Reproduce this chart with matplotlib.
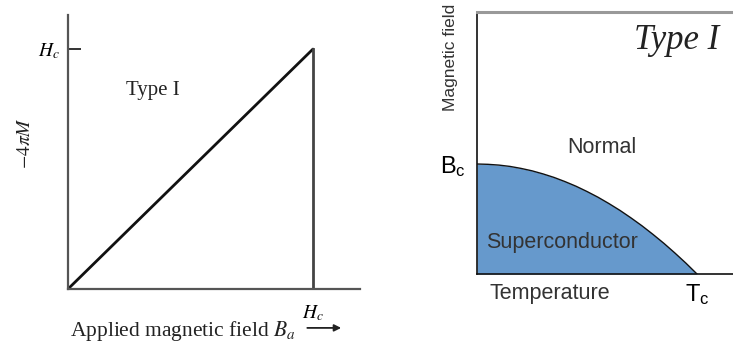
import numpy as np
import matplotlib
matplotlib.use('Agg')
import matplotlib.pyplot as plt

plt.rcParams['mathtext.fontset'] = 'custom'
plt.rcParams['mathtext.rm'] = 'Liberation Sans'
plt.rcParams['mathtext.it'] = 'Liberation Sans:italic'

# left panel: magnetization curve of a type I superconductor (units of Hc)
applied_field = [0.0, 1.0, 1.0]
magnetization = [0.0, 1.0, 0.0]
Hc = 1.0

# right panel: critical field curve (units of Tc, Bc)
temperature = [0.0, 0.05, 0.1, 0.15, 0.2, 0.25, 0.3, 0.35, 0.4, 0.45, 0.5,
               0.55, 0.6, 0.65, 0.7, 0.75, 0.8, 0.85, 0.9, 0.95, 1.0]
critical_field = [1.0, 0.997, 0.99, 0.978, 0.96, 0.938, 0.91, 0.878, 0.84, 0.798, 0.75,
                  0.698, 0.64, 0.578, 0.51, 0.438, 0.36, 0.278, 0.19, 0.098, 0.0]
Tc = 1.0
Bc = 1.0

W, H = 733, 349
fig = plt.figure(figsize=(W / 100, H / 100), dpi=100)

serif = 'Liberation Serif'
sans = 'Liberation Sans'

# left panel
ax1 = fig.add_axes([68 / W, (H - 289) / H, (360 - 68) / W, (289 - 15) / H])
ax1.plot(applied_field[:2], magnetization[:2], color='#111111', lw=2.0,
         solid_capstyle='round')
ax1.plot(applied_field[1:], magnetization[1:], color='#444444', lw=2.0)
ax1.set_xlim(0, 1.192)
ax1.set_ylim(0, 1.142)
for s in ['top', 'right']:
    ax1.spines[s].set_visible(False)
for s in ['left', 'bottom']:
    ax1.spines[s].set_color('#555555')
    ax1.spines[s].set_linewidth(1.6)
ax1.set_yticks([Hc])
ax1.set_yticklabels([r'$H_c$'], fontsize=14, math_fontfamily='stix')
ax1.tick_params(axis='y', direction='in', length=9, width=1.4, color='#333333', pad=6)
ax1.set_xticks([Hc])
ax1.set_xticklabels([r'$H_c$'], fontsize=14, math_fontfamily='stix')
ax1.tick_params(axis='x', length=0, pad=10)
ax1.text(0.291, 0.723, 'Type I', transform=ax1.transAxes, fontsize=15,
         family=serif, ha='center', va='center', color='#222222')
ax1.text(0.007, -0.153, r'Applied magnetic field $B_a$', transform=ax1.transAxes,
         fontsize=15.5, family=serif, ha='left', va='center', color='#222222',
         math_fontfamily='stix')
ax1.annotate('', xy=(0.945, -0.142), xytext=(0.81, -0.142), xycoords='axes fraction',
             arrowprops=dict(arrowstyle='-|>', color='#222222', lw=1.3,
                             mutation_scale=10))
fig.text(25 / W, 1 - 143 / H, r'$-4\pi M$', rotation=90, fontsize=14,
         ha='center', va='center', color='#222222', math_fontfamily='stix')

# right panel
ax2 = fig.add_axes([477 / W, (H - 274) / H, (733 - 477) / W, (274 - 12) / H])
ax2.fill_between(temperature, critical_field, 0, color='#6699cc', lw=0)
ax2.plot(temperature, critical_field, color='#111111', lw=1.0)
ax2.set_xlim(0, 256 / 220)
ax2.set_ylim(0, 262 / 110)
ax2.spines['right'].set_visible(False)
ax2.spines['top'].set_color('#999999')
ax2.spines['top'].set_linewidth(2.2)
for s in ['left', 'bottom']:
    ax2.spines[s].set_color('#111111')
    ax2.spines[s].set_linewidth(1.2)
ax2.set_yticks([Bc])
ax2.set_yticklabels([r'$\mathrm{B_c}$'], fontsize=17)
ax2.tick_params(axis='y', length=0, pad=8)
ax2.set_xticks([Tc])
ax2.set_xticklabels([r'$\mathrm{T_c}$'], fontsize=17)
ax2.tick_params(axis='x', length=0, pad=6)
ax2.text(0.781, 0.893, 'Type I', transform=ax2.transAxes, fontsize=25,
         family=serif, style='italic', ha='center', va='center', color='#222222')
ax2.text(0.488, 0.481, 'Normal', transform=ax2.transAxes, fontsize=15.5,
         family=sans, ha='center', va='center', color='#333333')
ax2.text(0.332, 0.122, 'Superconductor', transform=ax2.transAxes, fontsize=15.5,
         family=sans, ha='center', va='center', color='#333333')
ax2.text(0.285, -0.073, 'Temperature', transform=ax2.transAxes, fontsize=15.5,
         family=sans, ha='center', va='center', color='#333333')
ax2.text(-0.102, 0.828, 'Magnetic field', transform=ax2.transAxes, fontsize=12.5,
         family=sans, rotation=90, ha='center', va='center', color='#333333')

fig.savefig('out.png', dpi=100)
